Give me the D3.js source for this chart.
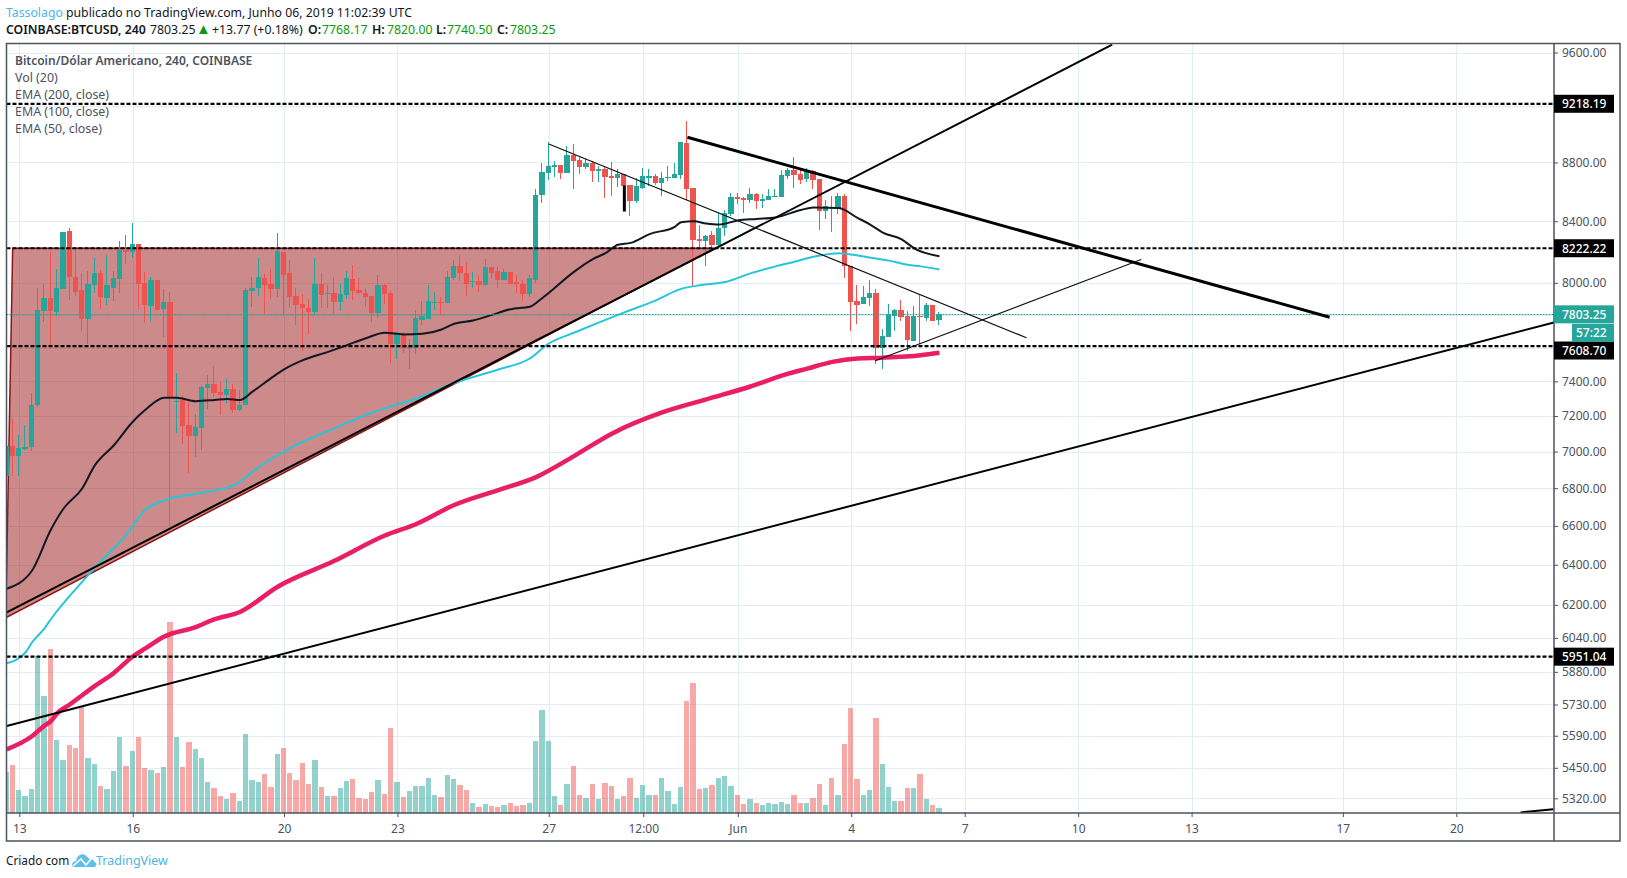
<!DOCTYPE html>
<html lang="pt-BR">
  <head>
    <meta charset="utf-8">
    <title>BTCUSD 240</title>
    <script src="https://cdn.jsdelivr.net/npm/d3@7/dist/d3.min.js"></script>
    <style>
      html, body { margin: 0; padding: 0; background: #fff; }
      svg { display: block; }
      text { font-family: "Noto Sans", sans-serif; }
    </style>
  </head>
  <body>
    <script type="text/javascript">

    // candles, one value per 4h bar
    var opens = [6865,7030,6975,7015,7025,7260,7825,7905,7820,7960,8332,8040,7953,7775,7985,8060,7905,7970,8022,8212,
      8200,8250,8002,7855,8020,7837,7880,7280,7290,7150,7085,7130,7360,7385,7340,7322,7358,7235,7260,7946,
      7965,8028,7990,7960,8200,8060,7915,7865,7840,7815,7995,7930,7938,7880,7925,8022,7955,7935,7915,7812,
      7985,7935,7620,7680,7595,7595,7770,7775,7873,7880,7873,8028,8105,8065,8003,8010,7985,8098,8073,8015,
      8067,8003,7995,7930,8015,8573,8730,8770,8782,8730,8850,8815,8770,8796,8742,8755,8708,8695,8720,8647,
      8533,8627,8695,8708,8660,8690,8695,8715,8938,8627,8285,8272,8310,8245,8352,8445,8560,8553,8540,8580,
      8533,8540,8560,8560,8708,8750,8722,8688,8742,8688,8465,8492,8485,8567,8107,7886,7868,7905,7935,7600,
      7665,7790,7830,7791,7640,7795,7783,7863,7768.17];
    var highs = [7030,7185,7090,7150,7330,7965,7990,8200,8087,8330,8358,8226,8060,8075,8160,8080,8180,8075,8270,8310,
      8390,8250,8067,8040,8020,7960,7940,7450,7320,7280,7210,7380,7440,7490,7395,7415,7385,7350,7970,8040,
      8160,8055,8090,8320,8200,8145,7970,7930,7897,8160,8060,7985,8035,7995,8075,8112,8028,7965,7915,8048,
      7990,7948,7692,7697,7655,7830,7885,7985,7940,7910,8075,8145,8180,8130,8067,8048,8150,8098,8098,8087,
      8067,8048,8020,8048,8614,8796,8945,8808,8782,8918,8932,8843,8822,8808,8775,8775,8802,8755,8720,8647,
      8695,8762,8755,8722,8735,8775,8795,8945,9092,8627,8378,8310,8338,8458,8478,8587,8587,8560,8627,8587,
      8580,8614,8614,8750,8762,8838,8750,8762,8750,8688,8545,8570,8593,8580,8107,7985,7978,8015,7960,7715,
      7870,7835,7890,7821,7852,7923,7875,7863,7820];
    var lows = [6865,6865,6865,7010,7005,7250,7757,7603,7790,7960,7890,7920,7703,7625,7935,7835,7860,7885,7935,8120,
      8160,7835,7750,7757,7830,7667,6600,7105,7040,6880,6970,7010,7240,7310,7205,7275,7218,7228,7260,7850,
      7920,7803,7900,7910,7800,7840,7735,7577,7685,7800,7842,7842,7808,7825,7900,7895,7930,7848,7757,7780,
      7868,7510,7535,7565,7470,7560,7735,7775,7830,7800,7873,8020,8010,7920,7970,7940,7980,8022,7970,8015,
      7990,7935,7885,7910,8000,8520,8680,8700,8688,8730,8620,8722,8757,8668,8668,8553,8567,8632,8465,8432,
      8520,8620,8634,8647,8567,8675,8690,8688,8540,7977,8222,8110,8205,8240,8305,8438,8512,8458,8520,8479,
      8485,8540,8560,8560,8688,8622,8648,8668,8615,8340,8418,8330,8445,8030,7701,7744,7868,7852,7505,7470,
      7665,7700,7760,7578,7640,7620,7761,7765,7740.5];
    var closes = [7030,6975,7020,7025,7265,7830,7905,7825,7965,8330,8036,7945,7775,7990,8060,7910,7985,8030,8212,8200,
      8250,7995,7860,8020,7830,7880,7304,7285,7145,7085,7135,7365,7385,7335,7322,7358,7235,7265,7953,7970,
      8035,7985,7960,8205,8052,7910,7860,7840,7815,7995,7925,7938,7880,7930,8028,7948,7935,7910,7812,7985,
      7930,7625,7680,7595,7601,7780,7793,7885,7880,7873,8035,8105,8060,7995,8010,7985,8098,8060,8015,8067,
      7995,7990,7930,8028,8573,8735,8775,8782,8730,8850,8810,8770,8796,8742,8755,8702,8695,8720,8640,8533,
      8634,8708,8708,8660,8695,8702,8722,8945,8620,8279,8272,8305,8245,8358,8452,8560,8546,8540,8580,8533,
      8546,8567,8567,8715,8750,8715,8680,8742,8680,8465,8505,8485,8567,8107,7880,7862,7910,7935,7600,7672,
      7803,7828,7785,7645,7791,7789,7863,7765,7803.25];
    var volumes = [820,960,460,340,480,3140,2340,3280,1460,1060,1360,1300,2140,1100,980,540,480,840,1520,940,
      1240,1520,900,860,800,920,3820,1520,920,1420,1280,1100,620,500,340,280,400,240,1580,660,
      620,780,520,1180,1300,800,660,1000,580,1060,520,340,340,500,640,680,300,280,420,660,
      380,1700,620,320,440,540,540,700,360,320,760,680,560,460,200,120,180,140,120,160,
      200,140,160,200,1440,2060,1440,340,160,580,940,360,300,580,280,600,540,280,340,700,
      300,560,360,360,700,440,180,520,2240,2600,480,500,560,700,740,540,360,180,280,200,
      160,200,180,220,180,360,200,200,300,580,160,700,360,1380,2100,680,360,460,1900,980,
      520,240,240,500,500,780,280,160,100];

    // moving averages at these bars
    var ema50 = [[0,6280],[4,6370],[7,6580],[9,6690],[12,6800],[14,6925],[17,7035],[20,7167],[22,7235],[25,7305],[27,7305],[30,7285],[33,7292],[35,7298],[37,7292],[39,7340],[42,7420],[44,7470],[47,7525],[51,7575],[54,7615],[57,7657],[60,7690],[63,7680],[66,7684],[69,7710],[71,7745],[74,7765],[77,7800],[80,7835],[83,7850],[85,7905],[90,8070],[93,8152],[95,8190],[97,8245],[99,8257],[102,8315],[106,8363],[107,8393],[109,8400],[111,8385],[113,8378],[116,8405],[119,8415],[122,8425],[126,8475],[128,8492],[132,8488],[135,8422],[137,8378],[139,8325],[142,8280],[144,8222],[148,8170]];
    var ema100 = [[0,5920],[3,5972],[4,6018],[6,6086],[7,6130],[12,6315],[15,6420],[19,6555],[22,6685],[25,6735],[30,6770],[36,6815],[40,6915],[45,7020],[52,7130],[58,7220],[65,7300],[71,7390],[78,7470],[83,7535],[86,7625],[90,7690],[98,7815],[103,7890],[107,7962],[110,7985],[114,8005],[118,8060],[122,8105],[125,8135],[128,8167],[132,8190],[136,8168],[140,8142],[143,8115],[145,8105],[148,8085]];
    var ema200 = [[0,5530],[4,5588],[6,5635],[7,5655],[8,5690],[10,5730],[14,5815],[17,5875],[20,5952],[22,5990],[25,6047],[30,6092],[33,6130],[37,6165],[43,6290],[52,6420],[60,6550],[65,6610],[71,6710],[78,6790],[84,6860],[90,6975],[96,7100],[104,7220],[111,7295],[118,7370],[124,7445],[127,7475],[131,7515],[135,7535],[139,7540],[145,7555],[148,7570]];

    // drawings on the chart, [bar, price]
    var wedge = [[0.95,8222.22],[112.3,8222.22],[-0.16,6137]];
    var longSupport = [[0,5633],[245.5,7753]];
    var lowerSupport = [[240.2,5261],[245.4,5274]];
    var midSupport = [[0,6163],[175.4,9660]];
    var heavyResistance = [[108,8977],[209.9,7785]];
    var thinResistance = [[86,8929],[161.8,7660]];
    var thinRising = [[137.8,7522],[180,8149]];
    var blackStub = [[98,8640],[98,8465]];
    var levels = [9218.19, 8222.22, 7608.70, 5951.04];
    var lastPrice = 7803.25;
    var countdown = "57:22";

    // axis labels
    var priceTicks = [9600,8800,8400,8000,7400,7200,7000,6800,6600,6400,6200,6040,5880,5730,5590,5450,5320];
    var priceGrid = priceTicks.concat([9200,7800,7600]);
    var dayBars = [2,20,44,62,86,101,116,134,152,170,188,212,230];
    var dayLabels = ["13","16","20","23","27","12:00","Jun","4","7","10","13","17","20"];

    var legendLines = ["Vol (20)","EMA (200, close)","EMA (100, close)","EMA (50, close)"];

    var w = 1627, h = 878,
        plotLeft = 6.5, plotRight = 1554, plotTop = 43.5, plotBottom = 813, outerRight = 1620, outerBottom = 841,
        up = "#26a69a", down = "#ef5350", ink = "#4c525e", blue = "#4db5e8", grid = "#e3edf3";

    var x = d3.scaleLinear().domain([0, 245.5]).range([6.7, plotRight]);
    var y = d3.scaleLog().domain([5320, 9600]).range([798.3, 52.5]);
    var v = d3.scaleLinear().domain([0, 4000]).range([plotBottom, plotBottom - 200]);

    // whole pixel column of a bar, so candles stay sharp
    function barX(i) { return Math.floor(x(i) - 0.7); }
    function barW(i) { return barX(i + 1) - barX(i) - 1; }
    function snap(p) { return Math.round(p) + 0.5; }

    var svg = d3.select("body").append("svg").attr("width", w).attr("height", h);

    svg.append("clipPath").attr("id", "plot").append("rect")
      .attr("x", plotLeft).attr("y", plotTop).attr("width", plotRight - plotLeft).attr("height", plotBottom - plotTop);

    // grid
    var gridG = svg.append("g").attr("stroke", grid).attr("stroke-width", 1);
    gridG.selectAll(".gy").data(priceGrid).enter().append("line")
      .attr("x1", plotLeft).attr("x2", plotRight).attr("y1", d => snap(y(d))).attr("y2", d => snap(y(d)));
    gridG.selectAll(".gx").data(dayBars).enter().append("line")
      .attr("y1", plotTop).attr("y2", plotBottom).attr("x1", d => snap(x(d))).attr("x2", d => snap(x(d)));

    var plot = svg.append("g").attr("clip-path", "url(#plot)");

    // volume
    plot.append("g").selectAll("rect").data(volumes).enter().append("rect")
      .attr("x", (d, i) => barX(i) - 2).attr("width", (d, i) => barW(i))
      .attr("y", d => Math.round(v(d))).attr("height", d => plotBottom - Math.round(v(d)))
      .attr("fill", (d, i) => closes[i] >= opens[i] ? up : down)
      .attr("fill-opacity", 0.5);

    var toLine = d3.line().x(d => x(d[0])).y(d => y(d[1]));
    var toCurve = d3.line().x(d => x(d[0])).y(d => y(d[1])).curve(d3.curveMonotoneX);

    // red triangle goes under the candles
    plot.append("path").attr("d", toLine(wedge) + "Z")
      .attr("fill", "rgba(153,21,21,0.5)").attr("stroke", "#8b1515").attr("stroke-width", 1.5);

    // candles
    var candle = plot.append("g").attr("shape-rendering", "crispEdges")
      .selectAll("g").data(opens).enter().append("g")
      .attr("fill", (d, i) => closes[i] >= opens[i] ? up : down);
    candle.append("rect")
      .attr("x", (d, i) => barX(i)).attr("width", 1)
      .attr("y", (d, i) => y(highs[i])).attr("height", (d, i) => y(lows[i]) - y(highs[i]));
    candle.append("rect")
      .attr("x", (d, i) => barX(i) - 2).attr("width", (d, i) => barW(i))
      .attr("y", (d, i) => y(Math.max(opens[i], closes[i])))
      .attr("height", (d, i) => Math.max(1, Math.abs(y(opens[i]) - y(closes[i]))));

    function addLine(points, color, width, gen) {
      plot.append("path").attr("d", (gen || toLine)(points)).attr("fill", "none")
        .attr("stroke", color).attr("stroke-width", width).attr("stroke-linejoin", "round");
    }

    // averages
    addLine(ema200, "#e91e63", 4.5, toCurve);
    addLine(ema100, "#26c6da", 2, toCurve);
    addLine(ema50, "#131722", 2, toCurve);

    // last price line
    plot.append("line").attr("x1", plotLeft).attr("x2", plotRight)
      .attr("y1", snap(y(lastPrice))).attr("y2", snap(y(lastPrice)))
      .attr("stroke", up).attr("stroke-width", 1).attr("stroke-dasharray", "2 1");

    // horizontal levels
    plot.selectAll(".level").data(levels).enter().append("line")
      .attr("x1", plotLeft).attr("x2", plotRight).attr("y1", d => y(d)).attr("y2", d => y(d))
      .attr("stroke", "#000").attr("stroke-width", 2.2).attr("stroke-dasharray", "4 2");

    // trend lines
    addLine(longSupport, "#000", 2);
    addLine(lowerSupport, "#000", 2);
    addLine(midSupport, "#000", 2);
    addLine(heavyResistance, "#000", 3);
    addLine(thinResistance, "#111", 1.2);
    addLine(thinRising, "#111", 1.2);
    addLine(blackStub, "#000", 3);

    // frame
    svg.append("rect").attr("x", plotLeft).attr("y", plotTop)
      .attr("width", outerRight - plotLeft).attr("height", outerBottom - plotTop)
      .attr("fill", "none").attr("stroke", ink).attr("stroke-width", 1.5);
    svg.append("line").attr("x1", plotRight).attr("x2", plotRight).attr("y1", plotTop).attr("y2", outerBottom)
      .attr("stroke", ink).attr("stroke-width", 1.5);
    svg.append("line").attr("x1", plotLeft).attr("x2", outerRight).attr("y1", plotBottom).attr("y2", plotBottom)
      .attr("stroke", ink).attr("stroke-width", 1.5);

    // axes
    var yAxis = svg.append("g").attr("transform", "translate(" + plotRight + ",0)")
      .call(d3.axisRight(y).tickValues(priceTicks).tickSize(4).tickPadding(4).tickFormat(d => d.toFixed(2)));
    var xAxis = svg.append("g").attr("transform", "translate(0," + plotBottom + ")")
      .call(d3.axisBottom(x).tickValues(dayBars).tickSize(4).tickPadding(7).tickFormat((d, i) => dayLabels[i]));
    [yAxis, xAxis].forEach(function (a) {
      a.select(".domain").remove();
      a.selectAll("line").attr("stroke", ink);
      a.selectAll("text").attr("fill", ink).style("font-size", "12px").style("font-family", '"Noto Sans", sans-serif');
    });

    // price tags
    function tag(label, price, shift, color) {
      var cy = y(price) + shift;
      svg.append("rect").attr("x", plotRight).attr("y", cy - 9).attr("width", 60).attr("height", 18).attr("fill", color);
      svg.append("text").attr("x", plotRight + 8).attr("y", cy + 4.3).attr("fill", "#fff")
        .style("font-size", "12px").style("font-weight", 500).text(label);
    }
    tag("9218.19", 9218.19, 0, "#000");
    tag("8222.22", 8222.22, 0, "#000");
    tag("7608.70", 7608.70, 4.3, "#000");
    tag("5951.04", 5951.04, 0, "#000");
    tag("7803.25", lastPrice, 0, up);
    svg.append("rect").attr("x", 1572).attr("y", y(lastPrice) + 9.5).attr("width", 42).attr("height", 18).attr("fill", up);
    svg.append("text").attr("x", 1576).attr("y", y(lastPrice) + 23).attr("fill", "#fff")
      .style("font-size", "12px").style("font-weight", 500).text(countdown);

    // header
    var line1 = svg.append("text").attr("x", 6).attr("y", 17).style("font-size", "12.25px").attr("fill", "#131722");
    line1.append("tspan").attr("fill", blue).text("Tassolago");
    line1.append("tspan").text(" publicado no TradingView.com, Junho 06, 2019 11:02:39 UTC");

    var green = "#0a9a0a";
    var line2 = svg.append("text").attr("y", 34).style("font-size", "12.3px").attr("fill", "#131722");
    line2.append("tspan").attr("x", 6).style("font-weight", 600).text("COINBASE:BTCUSD, 240");
    line2.append("tspan").attr("x", 150).text("7803.25");
    line2.append("tspan").attr("x", 196).attr("fill", green).style("font-size", "15px").text("▲");
    line2.append("tspan").attr("x", 212).text("+13.77 (+0.18%)");
    [["O:", "7768.17", 308, 322], ["H:", "7820.00", 372, 387], ["L:", "7740.50", 436, 447], ["C:", "7803.25", 497, 510]].forEach(function (p) {
      line2.append("tspan").attr("x", p[2]).style("font-weight", 600).text(p[0]);
      line2.append("tspan").attr("x", p[3]).attr("fill", green).text(p[1]);
    });

    // legend
    svg.append("text").attr("x", 15).attr("y", 65).attr("fill", ink)
      .style("font-size", "12px").style("font-weight", 600).text("Bitcoin/Dólar Americano, 240, COINBASE");
    svg.selectAll(".legend").data(legendLines).enter().append("text")
      .attr("x", 15).attr("y", (d, i) => 82 + i * 17).attr("fill", ink)
      .style("font-size", "12.4px").text(d => d);

    // footer
    svg.append("text").attr("x", 6).attr("y", 865).attr("fill", "#131722").style("font-size", "11.8px").text("Criado com");
    var logo = svg.append("g").attr("transform", "translate(72,852)");
    logo.append("path").attr("fill", "#5cc0ea")
      .attr("d", "M1,15 C-1,12 1,9 4,9 C5,4 9,1 13,3 C15,4 16,6 17,7 C20,5 23,7 23,10 C25,11 25,15 22,15 Z");
    logo.append("path").attr("fill", "none").attr("stroke", "#fff").attr("stroke-width", 1.6)
      .attr("d", "M1,14 L9,7 L14,13 L20,6 L25,11");
    svg.append("text").attr("x", 96).attr("y", 865).attr("fill", blue).style("font-size", "12.5px").text("TradingView");

    </script>
  </body>
</html>
